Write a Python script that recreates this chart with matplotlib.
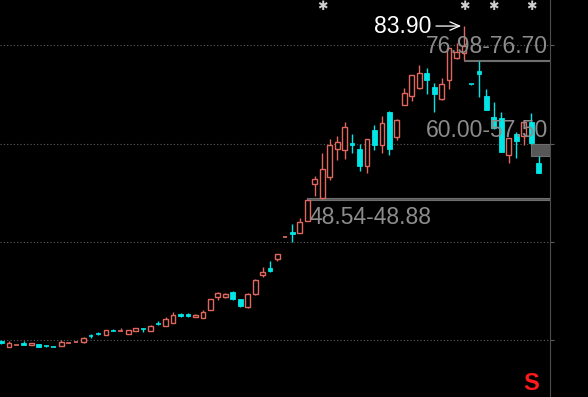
import numpy as np
import matplotlib.pyplot as plt
from matplotlib.patches import Rectangle
import matplotlib.transforms as mtransforms

plt.rcParams['font.family'] = ['Liberation Sans', 'DejaVu Sans']

# daily candles (open, high, low, close)
opens = [19.88, 18.66, 18.94, 19.47, 19.00, 19.20, 18.75, 18.70, 18.86, 19.42,
         19.41, 19.55, 20.90, 21.38, 21.04, 21.95, 21.65, 21.30, 21.83, 22.40,
         21.83, 23.30, 22.85, 23.54, 25.35, 25.35, 24.68, 24.56, 26.13, 28.71,
         28.71, 29.85, 28.30, 26.67, 29.32, 33.18, 34.67, 36.56, 41.00, 42.05,
         41.73, 44.29, 51.76, 48.85, 53.25, 58.82, 58.62, 60.04, 58.82, 55.42,
         62.75, 59.69, 66.47, 61.26, 67.93, 69.66, 71.23, 74.40, 71.43, 69.09,
         72.86, 77.33, 78.35, 72.15, 74.81, 69.66, 65.45, 65.13, 57.66, 61.87,
         61.59, 64.44, 55.97]
highs = [20.00, 19.80, 19.30, 19.80, 19.40, 19.30, 19.00, 18.80, 20.02, 19.71,
         19.82, 20.63, 21.14, 21.65, 22.10, 22.26, 22.40, 22.10, 22.45, 22.45,
         23.12, 23.82, 24.76, 25.76, 25.55, 25.55, 25.30, 26.13, 28.40, 29.85,
         29.50, 30.00, 28.40, 29.50, 32.35, 34.81, 36.03, 37.60, 41.10, 43.62,
         44.90, 48.54, 53.39, 58.01, 60.85, 61.53, 64.44, 61.93, 59.90, 61.00,
         63.76, 65.60, 66.60, 65.00, 71.23, 74.00, 75.97, 75.30, 72.25, 73.27,
         79.50, 80.39, 83.90, 72.20, 76.70, 71.15, 68.38, 66.35, 61.20, 62.40,
         64.60, 66.14, 57.50]
lows = [19.20, 18.60, 18.90, 18.90, 18.95, 18.53, 18.60, 18.60, 18.80, 19.35,
        19.38, 19.41, 20.43, 21.00, 21.00, 21.85, 21.60, 21.25, 21.80, 21.69,
        21.80, 23.00, 22.80, 23.50, 24.74, 24.74, 24.60, 24.50, 26.10, 28.16,
        28.60, 28.20, 26.67, 26.60, 29.20, 32.78, 33.90, 36.15, 40.95, 40.02,
        41.70, 44.20, 49.30, 48.80, 52.57, 56.64, 56.79, 58.07, 54.47, 53.90,
        58.68, 58.00, 57.66, 60.71, 67.80, 68.75, 71.10, 70.07, 66.47, 68.90,
        70.99, 77.20, 76.98, 72.00, 69.42, 66.80, 63.00, 58.20, 55.97, 57.15,
        59.69, 60.00, 53.90]
closes = [19.35, 19.47, 19.20, 18.94, 19.35, 18.66, 18.68, 18.64, 19.61, 19.47,
          19.61, 20.43, 20.80, 21.10, 22.05, 21.90, 21.91, 22.05, 22.40, 22.14,
          22.85, 23.20, 24.28, 25.14, 24.94, 24.80, 25.14, 25.78, 28.30, 29.52,
          29.38, 28.30, 26.94, 29.38, 32.23, 33.92, 34.00, 37.52, 41.05, 41.59,
          44.09, 48.50, 52.78, 54.75, 59.69, 60.24, 63.42, 59.69, 55.42, 60.85,
          59.69, 64.11, 58.82, 64.78, 70.34, 73.94, 74.34, 72.86, 70.17, 72.11,
          79.37, 78.62, 79.94, 72.05, 74.10, 66.88, 63.09, 58.33, 61.06, 60.51,
          64.44, 60.04, 53.94]

# gap zones: (start candle, low, high, label)
zone_start = [41, 62, 71]
zone_low = [48.54, 76.70, 57.50]
zone_high = [48.88, 76.98, 60.00]
zone_text = ['48.54-48.88', '76.98-76.70', '60.00-57.50']

star_idx = [43, 62, 66, 71]   # little markers along the top
sell_idx = 71                 # red "S" at the bottom
peak_idx = 62

grid_levels = [20, 40, 60, 80]

RED = '#e0675e'
CYAN = '#00e5e5'
GREY_TXT = '#8c8c8c'

fig = plt.figure(figsize=(5.88, 3.97), dpi=100, facecolor='black')
ax = fig.add_axes([0, 0, 550 / 588, 1])
ax.set_facecolor('black')
ax.set_xlim(-0.2, 73.53)
ax.set_ylim(8.42, 89.2)

# dotted price grid
for g in grid_levels:
    ax.axhline(g, color='#5e5e5e', lw=0.8, linestyle=(0, (1, 2)), zorder=0)

w = 0.64
for i in range(len(opens)):
    o, h, l, c = opens[i], highs[i], lows[i], closes[i]
    top, bot = max(o, c), min(o, c)
    if c >= o:
        # hollow red candle
        ax.vlines(i, top, h, color=RED, lw=1, zorder=3)
        ax.vlines(i, l, bot, color=RED, lw=1, zorder=3)
        if top - bot < 0.3:
            ax.hlines((top + bot) / 2, i - w / 2, i + w / 2, color=RED, lw=1.2, zorder=3)
        else:
            ax.add_patch(Rectangle((i - w / 2, bot), w, top - bot, facecolor='black',
                                   edgecolor=RED, lw=1, zorder=3))
    else:
        # filled cyan candle
        ax.vlines(i, l, h, color=CYAN, lw=1, zorder=3)
        if top - bot < 0.3:
            ax.hlines((top + bot) / 2, i - w / 2, i + w / 2, color=CYAN, lw=1.2, zorder=3)
        else:
            ax.add_patch(Rectangle((i - w / 2, bot), w, top - bot, facecolor=CYAN,
                                   edgecolor=CYAN, lw=0.6, zorder=3))

# gap zones run to the right edge
xmax = ax.get_xlim()[1]
for s, lo, hi in zip(zone_start, zone_low, zone_high):
    ax.add_patch(Rectangle((s, lo), xmax - s, hi - lo, facecolor='#575757',
                           edgecolor='#6e6e6e', lw=0.8, zorder=2))

ax.annotate(zone_text[0], xy=(zone_start[0], zone_low[0]), xytext=(2, -24),
            textcoords='offset pixels', ha='left', va='baseline',
            color=GREY_TXT, fontsize=16.5, zorder=5)
right_tr = mtransforms.blended_transform_factory(ax.transAxes, ax.transData)
for k in [1, 2]:
    ax.annotate(zone_text[k], xy=(0.996, zone_high[k]), xycoords=right_tr,
                xytext=(0, 7), textcoords='offset pixels', ha='right',
                va='baseline', color=GREY_TXT, fontsize=16.5, zorder=5)

# high marker
ax.annotate('', xy=(peak_idx, highs[peak_idx]), xytext=(-28, 0), textcoords='offset pixels',
            arrowprops=dict(arrowstyle='->, head_length=0.7, head_width=0.3', color='white',
                            lw=0.9, shrinkA=0, shrinkB=2), zorder=6)
ax.annotate('%.2f' % highs[peak_idx], xy=(peak_idx, highs[peak_idx]), xytext=(-33, -7),
            textcoords='offset pixels', ha='right', va='baseline', color='white',
            fontsize=16.5, zorder=6)

top_tr = mtransforms.blended_transform_factory(ax.transData, ax.transAxes)
for s in star_idx:
    ax.text(s, 0.984, '\u2731', transform=top_tr, ha='center', va='center',
            color='#d0d0d0', fontsize=9, family='DejaVu Sans', zorder=6)
ax.text(sell_idx, 0.006, 'S', transform=top_tr, ha='center', va='bottom',
        color='#ff1a1a', fontsize=17, fontweight='bold', zorder=6)

for side in ['top', 'bottom', 'left']:
    ax.spines[side].set_visible(False)
ax.spines['right'].set_color('#4d4d4d')
ax.set_xticks([])
ax.yaxis.tick_right()
ax.set_yticks(grid_levels)
ax.tick_params(axis='y', length=3, color='#5e5e5e', labelright=False)

fig.savefig('out.png', dpi=100, facecolor='black')
